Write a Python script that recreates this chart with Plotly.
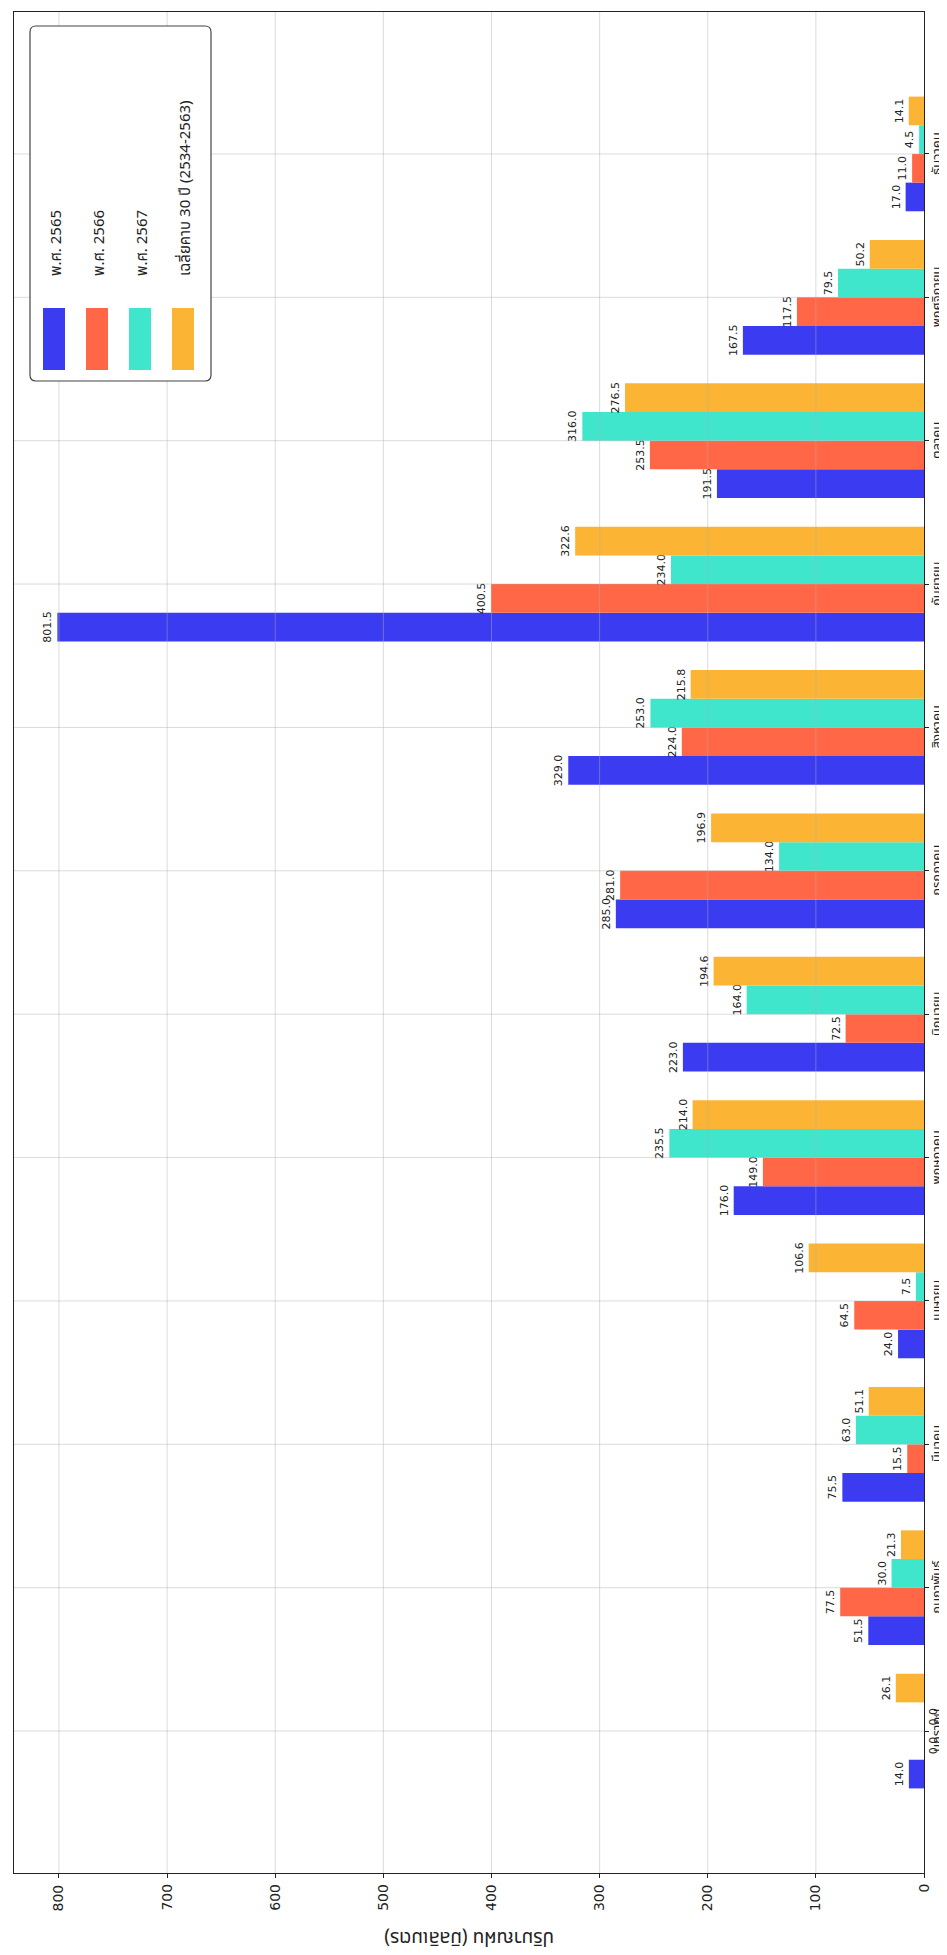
import plotly.graph_objects as go

# ---------------- data ----------------
months = ["มกราคม", "กุมภาพันธ์", "มีนาคม", "เมษายน", "พฤษภาคม", "มิถุนายน",
          "กรกฎาคม", "สิงหาคม", "กันยายน", "ตุลาคม", "พฤศจิกายน", "ธันวาคม"]
series_names = ["พ.ศ. 2565", "พ.ศ. 2566", "พ.ศ. 2567", "เฉลี่ยคาบ 30 ปี (2534-2563)"]
rain_2565 = [14.0, 51.5, 75.5, 24.0, 176.0, 223.0, 285.0, 329.0, 801.5, 191.5, 167.5, 17.0]
rain_2566 = [0.0, 77.5, 15.5, 64.5, 149.0, 72.5, 281.0, 224.0, 400.5, 253.5, 117.5, 11.0]
rain_2567 = [0.0, 30.0, 63.0, 7.5, 235.5, 164.0, 134.0, 253.0, 234.0, 316.0, 79.5, 4.5]
rain_avg30 = [26.1, 21.3, 51.1, 106.6, 214.0, 194.6, 196.9, 215.8, 322.6, 276.5, 50.2, 14.1]
value_ticks = [0, 100, 200, 300, 400, 500, 600, 700, 800]
axis_title = "ปริมาณฝน (มิลลิเมตร)"

colors = ["#3b3bf2", "#ff6746", "#40e6cc", "#fbb434"]
series = [rain_2565, rain_2566, rain_2567, rain_avg30]

THAI = "Tahoma, 'Noto Sans Thai', Loma, Garuda, Norasi, 'DejaVu Sans', sans-serif"
NUM = "'DejaVu Sans', sans-serif"

W, H = 947, 1955
L, R, T, B = 6, 916, 4, 1865  # plot area in pixels
XMAX = 841.6                  # value axis runs from XMAX (left) to 0 (right)
GRID = "rgba(176,176,176,0.45)"


def px(x):
    return (x - L) / (R - L)


def py(y):
    return (B - y) / (B - T)


fig = go.Figure()
for name, vals, col in zip(series_names, series, colors):
    fig.add_trace(go.Bar(
        y=months, x=vals, orientation="h", name=name,
        marker=dict(color=col, line=dict(width=0)),
        text=[f"{v:.1f}" for v in vals], textposition="outside",
        textangle=-90, constraintext="none", cliponaxis=False,
        textfont=dict(size=11, color="#222222", family=NUM),
        showlegend=False,
    ))

shapes = []
annotations = []

# grid lines drawn over the bars (as in the source chart)
for v in value_ticks[1:]:
    shapes.append(dict(type="line", xref="x", yref="paper", x0=v, x1=v, y0=0, y1=1,
                       line=dict(color=GRID, width=1), layer="above"))
for m in months:
    shapes.append(dict(type="line", xref="paper", yref="y", x0=0, x1=1, y0=m, y1=m,
                       line=dict(color=GRID, width=1), layer="above"))

# legend box (rounded)
x0, x1, y0, y1, r = px(22), px(203), py(373), py(18), 6
rx = r / (R - L)
ry = r / (B - T)
path = (f"M {x0+rx},{y0} L {x1-rx},{y0} Q {x1},{y0} {x1},{y0+ry} "
        f"L {x1},{y1-ry} Q {x1},{y1} {x1-rx},{y1} "
        f"L {x0+rx},{y1} Q {x0},{y1} {x0},{y1-ry} "
        f"L {x0},{y0+ry} Q {x0},{y0} {x0+rx},{y0} Z")
shapes.append(dict(type="path", path=path, xref="paper", yref="paper",
                   fillcolor="white", line=dict(color="#444444", width=1.2),
                   layer="above"))

centers = [46, 89, 132, 175]
for c, col, name in zip(centers, colors, series_names):
    shapes.append(dict(type="rect", xref="paper", yref="paper",
                       x0=px(c - 11), x1=px(c + 11), y0=py(362), y1=py(300),
                       fillcolor=col, line=dict(width=0), layer="above"))
    annotations.append(dict(text=name, xref="paper", yref="paper",
                            x=px(c + 2), y=py(270), xanchor="center", yanchor="bottom",
                            textangle=-90, showarrow=False,
                            font=dict(size=15, color="#222222", family=THAI)))

# value-axis tick labels (rotated), placed at the axis fraction of each tick
for v in value_ticks:
    annotations.append(dict(text=str(v), xref="paper", yref="paper",
                            x=(XMAX - v) / XMAX, y=py(1874),
                            xanchor="center", yanchor="top",
                            textangle=-90, showarrow=False,
                            font=dict(size=14, color="#222222", family=NUM)))

# month tick labels (rotated)
for m in months:
    annotations.append(dict(text=m, xref="paper", yref="y",
                            x=px(929), y=m, xanchor="center", yanchor="middle",
                            textangle=-90, showarrow=False, borderpad=0,
                            font=dict(size=13, color="#222222", family=THAI)))

annotations.append(dict(text=axis_title, xref="paper", yref="paper",
                        x=0.5, y=py(1929), xanchor="center", yanchor="middle",
                        textangle=180, showarrow=False,
                        font=dict(size=19, color="#222222", family=THAI)))

fig.update_layout(
    width=W, height=H,
    margin=dict(l=L, r=W - R, t=T, b=H - B, pad=0),
    barmode="group", bargap=0.2, bargroupgap=0,
    plot_bgcolor="white", paper_bgcolor="white",
    shapes=shapes, annotations=annotations,
    showlegend=False,
    xaxis=dict(range=[XMAX, 0], tickvals=value_ticks, showticklabels=False,
               ticks="outside", ticklen=4, tickcolor="#222222",
               showline=True, mirror=True, linecolor="#222222", linewidth=1,
               showgrid=False, zeroline=False),
    yaxis=dict(side="right", range=[-0.99, 11.99], type="category",
               categoryorder="array", categoryarray=months, showticklabels=False,
               ticks="outside", ticklen=4, tickcolor="#222222",
               showline=True, mirror=True, linecolor="#222222", linewidth=1,
               showgrid=False, zeroline=False),
)

fig.write_html("out.html")
